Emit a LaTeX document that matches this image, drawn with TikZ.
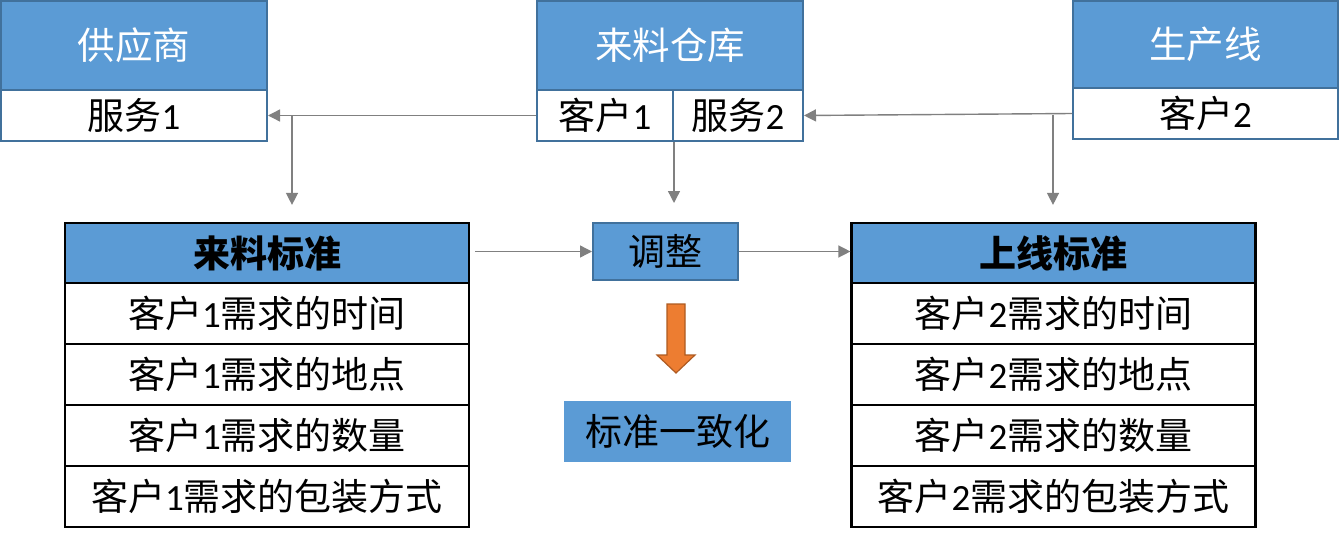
\documentclass[tikz,border=0pt]{standalone}
\usepackage{fontspec}
\setmainfont{Noto Sans CJK SC}
\newfontfamily\numf{Carlito}
\usetikzlibrary{arrows.meta,calc}
\definecolor{bfill}{HTML}{5B9BD5}
\definecolor{bline}{HTML}{41719C}
\definecolor{conncol}{HTML}{808080}
\definecolor{ofill}{HTML}{ED7D31}
\definecolor{oline}{HTML}{AE5A21}
\newcommand{\dg}[1]{{\numf #1}}
\tikzset{
  topbox/.style={draw=bline, line width=2pt, fill=bfill, text=white, inner sep=0pt, font=\fontsize{37.5}{42}\selectfont},
  subbox/.style={draw=bline, line width=2pt, fill=white, text=black, inner sep=0pt, font=\fontsize{37}{42}\selectfont},
  thead/.style={draw=black, line width=2.2pt, fill=bfill, text=black, inner sep=0pt, minimum width=404pt, minimum height=60pt, font=\bfseries\fontsize{37}{42}\selectfont},
  trow/.style={draw=black, line width=2.2pt, fill=white, text=black, inner sep=0pt, minimum width=404pt, minimum height=61pt, font=\fontsize{37}{42}\selectfont},
  midbox/.style={draw=bline, line width=2pt, fill=bfill, text=black, inner sep=0pt, font=\fontsize{37}{42}\selectfont},
  conn/.style={draw=conncol, line width=1.4pt, -{Triangle[length=12pt,width=12pt]}},
  oarrow/.style={fill=ofill, draw=oline, line width=1.2pt, line join=miter}
}
\begin{document}
\begin{tikzpicture}[x=1pt,y=-1pt]
\useasboundingbox (0,0) rectangle (1340,543);
% top boxes
\node[topbox, minimum width=266pt, minimum height=89pt] (gys) at (134,45.5) {供应商};
\node[subbox, minimum width=266pt, minimum height=51pt] (fw1) at (134,115.5) {服务\dg{1}};
\node[topbox, minimum width=266pt, minimum height=89pt] (llck) at (670,45.5) {来料仓库};
\node[subbox, minimum width=136pt, minimum height=51pt] (kh1) at (605,115.5) {客户\dg{1}};
\node[subbox, minimum width=130pt, minimum height=51pt] (fw2) at (738,115.5) {服务\dg{2}};
\node[topbox, minimum width=265pt, minimum height=87pt] (scx) at (1205.5,44.5) {生产线};
\node[subbox, minimum width=265pt, minimum height=51pt] (kh2) at (1205.5,113.5) {客户\dg{2}};
% left table
\node[thead] (llh) at (267,253) {来料标准};
\node[trow] (l1) at (267,313.5) {客户\dg{1}需求的时间};
\node[trow] (l2) at (267,374.5) {客户\dg{1}需求的地点};
\node[trow] (l3) at (267,435.5) {客户\dg{1}需求的数量};
\node[trow] (l4) at (267,496.5) {客户\dg{1}需求的包装方式};
% right table
\node[thead] (sxh) at (1053.5,253) {上线标准};
\node[trow] (r1) at (1053.5,313.5) {客户\dg{2}需求的时间};
\node[trow] (r2) at (1053.5,374.5) {客户\dg{2}需求的地点};
\node[trow] (r3) at (1053.5,435.5) {客户\dg{2}需求的数量};
\node[trow] (r4) at (1053.5,496.5) {客户\dg{2}需求的包装方式};
% middle
\node[midbox, minimum width=145pt, minimum height=57pt] (tz) at (665.5,251.5) {调整};
\node[fill=bfill, inner sep=0pt, minimum width=227pt, minimum height=61pt, font=\fontsize{37}{42}\selectfont] (bz) at (677.5,431.5) {标准一致化};
\draw[oarrow] (667,304) -- (685,304) -- (685,355) -- (695,355) -- (676,373) -- (657,355) -- (667,355) -- cycle;
% connectors
\draw[conn] (kh1.west) -- (fw1.east);
\coordinate (b1) at (292,115.5);
\draw[conn, shorten >=17pt] (b1) -- (b1 |- llh.north);
\draw[conn] (kh2.west) -- (fw2.east);
\coordinate (b2) at (1053,114.5);
\draw[conn, shorten >=17pt] (b2) -- (b2 |- sxh.north);
\draw[conn, shorten >=19pt] (kh1.south east) -- (kh1.south east |- tz.north);
\draw[conn, shorten <=5pt] (llh.east |- tz.west) -- (tz.west);
\draw[conn] (tz.east) -- (tz.east -| sxh.west);
\end{tikzpicture}
\end{document}
